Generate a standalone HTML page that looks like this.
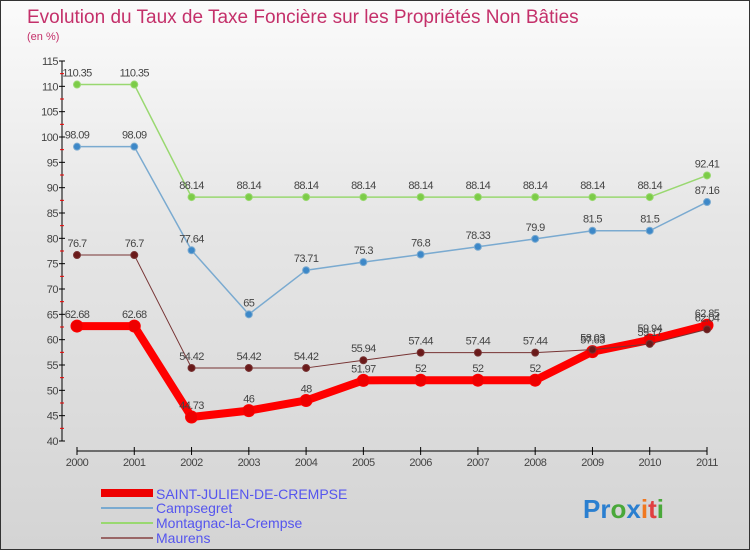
<!DOCTYPE html>
<html><head><meta charset="utf-8"><style>
body{margin:0}
#c{width:750px;height:550px;position:relative;background:linear-gradient(#fbfbfb,#e6e6e6 40%,#d4d4d4);box-sizing:border-box;border:1px solid #333;font-family:"Liberation Sans",sans-serif;overflow:hidden}
svg{position:absolute;left:0;top:0}
</style></head><body>
<div id="c">
<svg id="s" width="750" height="550">
<text x="26" y="22" font-size="19" fill="#c4306a">Evolution du Taux de Taxe Foncière sur les Propriétés Non Bâties</text>
<text x="26" y="39" font-size="11" fill="#c4306a">(en %)</text>
<g id="axes"></g><g id="series"></g>
<g>
<rect x="100" y="488" width="52" height="8" fill="#e00"/>
<text x="155" y="498" font-size="14" fill="#5555ee">SAINT-JULIEN-DE-CREMPSE</text>
<rect x="100" y="506" width="52" height="2" fill="#7aaad0"/>
<text x="155" y="512" font-size="14" fill="#5555ee">Campsegret</text>
<rect x="100" y="521" width="52" height="2" fill="#99d870"/>
<text x="155" y="527" font-size="14" fill="#5555ee">Montagnac-la-Crempse</text>
<rect x="100" y="536" width="52" height="2" fill="#996666"/>
<text x="155" y="542" font-size="14" fill="#5555ee">Maurens</text>
</g>
<text x="582" y="517" font-size="26" font-weight="bold"><tspan fill="#2a7fd0">Pr</tspan><tspan fill="#4aa83a">o</tspan><tspan fill="#2a7fd0">x</tspan><tspan fill="#f07820">i</tspan><tspan fill="#e04040">t</tspan><tspan fill="#4aa83a">i</tspan></text>
</svg></div>
<script>
const years=["2000","2001","2002","2003","2004","2005","2006","2007","2008","2009","2010","2011"];
const yTicks=[40,45,50,55,60,65,70,75,80,85,90,95,100,105,110,115];
const saintJulien=[62.68,62.68,44.73,46,48,51.97,52,52,52,57.63,59.94,62.85];
const campsegret=[98.09,98.09,77.64,65,73.71,75.3,76.8,78.33,79.9,81.5,81.5,87.16];
const montagnac=[110.35,110.35,88.14,88.14,88.14,88.14,88.14,88.14,88.14,88.14,88.14,92.41];
const maurens=[76.7,76.7,54.42,54.42,54.42,55.94,57.44,57.44,57.44,58.03,59.17,62.04];
const NS="http://www.w3.org/2000/svg";
const X=i=>76+i*(630/11);
const Y=v=>440-(v-40)*(380/75);
function mk(t,a,p){const e=document.createElementNS(NS,t);for(const k in a)e.setAttribute(k,a[k]);p.appendChild(e);return e;}
const ax=document.getElementById('axes');
const yl=mk('line',{x1:61,y1:60,x2:61,y2:440,stroke:'#000'},ax);


yTicks.forEach(v=>{
 const t=mk('line',{x1:58,x2:64,y1:Y(v),y2:Y(v),stroke:'#000'},ax);
 
 
 if(v<115){const m=mk('line',{x1:59,x2:63,y1:Y(v+2.5),y2:Y(v+2.5),stroke:'#e00'},ax);
 
 }
 const l=mk('text',{x:57,y:Y(v)+4,'font-size':11,fill:'#444','text-anchor':'end','letter-spacing':'-0.5'},ax);
 
 
 l.textContent=v;
});
const xl=mk('line',{x1:X(0),y1:450,x2:X(11),y2:450,stroke:'#000'},ax);


years.forEach((y,i)=>{
 const t=mk('line',{x1:X(i),x2:X(i),y1:446,y2:454,stroke:'#000'},ax);
 
 
 const l=mk('text',{x:X(i),y:465,'font-size':11,fill:'#444','text-anchor':'middle','letter-spacing':'-0.5'},ax);
 
 
 l.textContent=y;
});
const sg=document.getElementById('series');
function series(d,name,col,w,r,dot){
 const g=mk('g',{},sg);
 
 
 const pl=mk('polyline',{points:d.map((v,i)=>X(i)+','+Y(v)).join(' '),fill:'none',stroke:col,'stroke-width':w,'stroke-linejoin':'round'},g);
 
 
 d.forEach((v,i)=>{
  const c=mk('circle',{cx:X(i),cy:Y(v),r:r,fill:dot,stroke:col,'stroke-width':1},g);
  
  
  const t=mk('text',{x:X(i),y:Y(v)-8,'font-size':11,fill:'#444','text-anchor':'middle','letter-spacing':'-0.6'},g);
  
  
  t.textContent=v;
 });
}
series(montagnac,'montagnac','#99d870',1.5,3.5,'#7ccc48');
series(campsegret,'campsegret','#7aaad0',1.5,3.5,'#3d88c8');
series(saintJulien,'saint-julien','#f00',8,6,'#e00');
series(maurens,'maurens','#773333',1,3.5,'#6a1a1a');
</script>
</body></html>
